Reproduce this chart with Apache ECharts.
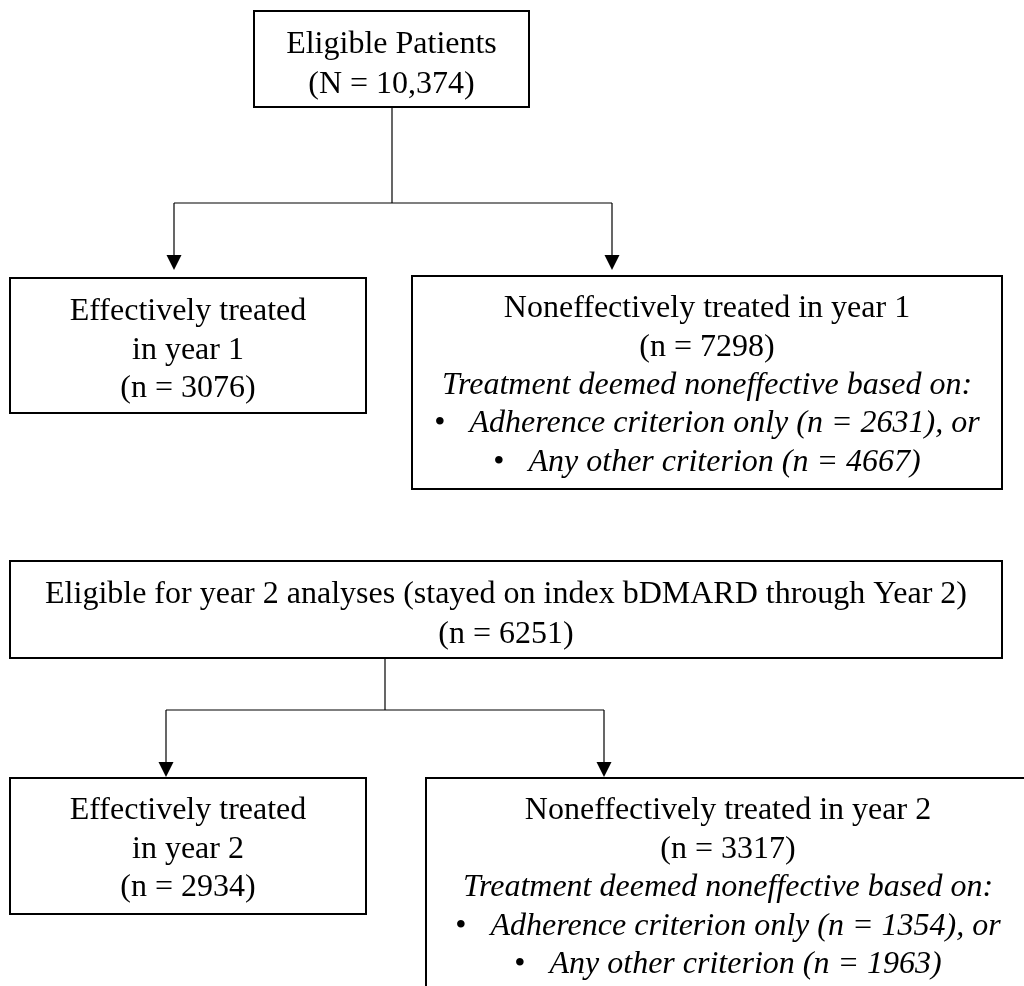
<!DOCTYPE html>
<html>
<head>
<meta charset="utf-8">
<script src="https://cdn.jsdelivr.net/npm/echarts@6/dist/echarts.min.js"></script>
<style>html,body{margin:0;padding:0;background:#fff}#chart{width:1024px;height:986px}</style>
</head>
<body>
<div id="chart"></div>
<script>
// ---- content (data) ----
const totalEligible = 10374;
const year1Effective = 3076;
const year1Noneffective = 7298;
const year1Adherence = 2631;
const year1Other = 4667;
const year2Eligible = 6251;
const year2Effective = 2934;
const year2Noneffective = 3317;
const year2Adherence = 1354;
const year2Other = 1963;

const titleEligible = 'Eligible Patients';
const titleEffective = ['Effectively treated', 'in year '];
const titleNoneffective = 'Noneffectively treated in year ';
const titleBasis = 'Treatment deemed noneffective based on:';
const titleAdherence = 'Adherence criterion only';
const titleOther = 'Any other criterion';
const titleYear2 = 'Eligible for year 2 analyses (stayed on index bDMARD through Year 2)';

// each line: [text, kind]  kind: 'n' normal, 'i' italic, 'b' bullet italic
const boxLines = [
  [[titleEligible, 'n'], ['(N = ' + totalEligible.toLocaleString('en-US') + ')', 'n']],
  [[titleEffective[0], 'n'], [titleEffective[1] + '1', 'n'], ['(n = ' + year1Effective + ')', 'n']],
  [[titleNoneffective + '1', 'n'], ['(n = ' + year1Noneffective + ')', 'n'], [titleBasis, 'i'],
   [titleAdherence + ' (n = ' + year1Adherence + '), or', 'b'], [titleOther + ' (n = ' + year1Other + ')', 'b']],
  [[titleYear2, 'n'], ['(n = ' + year2Eligible + ')', 'n']],
  [[titleEffective[0], 'n'], [titleEffective[1] + '2', 'n'], ['(n = ' + year2Effective + ')', 'n']],
  [[titleNoneffective + '2', 'n'], ['(n = ' + year2Noneffective + ')', 'n'], [titleBasis, 'i'],
   [titleAdherence + ' (n = ' + year2Adherence + '), or', 'b'], [titleOther + ' (n = ' + year2Other + ')', 'b']]
];

// ---- layout (positions in axis units): x0, y0, x1, y1, first-line offset, line step ----
const boxLayout = [
  [254, 11, 529, 107, 33.5, 40],
  [10, 278, 366, 413, 34, 38.5],
  [412, 276, 1002, 489, 33, 38.3],
  [10, 561, 1002, 658, 33.5, 40],
  [10, 778, 366, 914, 33, 38.5],
  [426, 778, 1030, 1000, 33, 38.5]
];
const connectorLayout = [
  [392, 107, 392, 203, 0],
  [174, 203, 612, 203, 0],
  [174, 203, 174, 270, 1],
  [612, 203, 612, 270, 1],
  [385, 658, 385, 710, 0],
  [166, 710, 604, 710, 0],
  [166, 710, 166, 777, 1],
  [604, 710, 604, 777, 1]
];

const FONT = '"Liberation Serif", "Times New Roman", serif';
const FS = 32;

const chart = echarts.init(document.getElementById('chart'), null, {renderer: 'canvas'});

function renderBox(params, api) {
  const i = params.dataIndex;
  const p0 = api.coord([api.value(0), api.value(1)]);
  const p1 = api.coord([api.value(2), api.value(3)]);
  const off = api.value(4);
  const step = api.value(5);
  const cx = (p0[0] + p1[0]) / 2;
  const children = [{
    type: 'rect',
    shape: {x: p0[0], y: p0[1], width: p1[0] - p0[0], height: p1[1] - p0[1]},
    style: {fill: '#fff', stroke: '#000', lineWidth: 2}
  }];
  boxLines[i].forEach(function (ln, k) {
    const y = p0[1] + off + k * step;
    const style = {
      x: cx, y: y, align: 'center', verticalAlign: 'middle',
      fontFamily: FONT, fontSize: FS, fill: '#000'
    };
    if (ln[1] === 'n') {
      style.text = ln[0];
    } else if (ln[1] === 'i') {
      style.text = ln[0];
      style.fontStyle = 'italic';
    } else {
      style.text = '{b|\u2022}{t|   ' + ln[0] + '}';
      style.rich = {
        b: {fontFamily: FONT, fontSize: FS, fill: '#000', fontStyle: 'normal'},
        t: {fontFamily: FONT, fontSize: FS, fill: '#000', fontStyle: 'italic'}
      };
    }
    children.push({type: 'text', style: style});
  });
  return {type: 'group', children: children};
}

function renderConnector(params, api) {
  const a = api.coord([api.value(0), api.value(1)]);
  const b = api.coord([api.value(2), api.value(3)]);
  const arrow = api.value(4);
  const children = [];
  if (arrow) {
    const ah = 15, aw = 7.5;
    children.push({
      type: 'line',
      shape: {x1: a[0], y1: a[1], x2: b[0], y2: b[1] - ah + 1},
      style: {stroke: '#000', lineWidth: 1.2}
    });
    children.push({
      type: 'polygon',
      shape: {points: [[b[0], b[1]], [b[0] - aw, b[1] - ah], [b[0] + aw, b[1] - ah]]},
      style: {fill: '#000'}
    });
  } else {
    children.push({
      type: 'line',
      shape: {x1: a[0], y1: a[1], x2: b[0], y2: b[1]},
      style: {stroke: '#000', lineWidth: 1.2}
    });
  }
  return {type: 'group', children: children};
}

chart.setOption({
  animation: false,
  backgroundColor: '#fff',
  grid: {left: 0, right: 0, top: 0, bottom: 0},
  xAxis: {type: 'value', min: 0, max: 1024, show: false},
  yAxis: {type: 'value', min: 0, max: 986, inverse: true, show: false},
  series: [
    {
      type: 'custom', coordinateSystem: 'cartesian2d', clip: false, silent: true,
      renderItem: renderConnector,
      encode: {x: [0, 2], y: [1, 3]},
      data: connectorLayout, z: 1
    },
    {
      type: 'custom', coordinateSystem: 'cartesian2d', clip: false, silent: true,
      renderItem: renderBox,
      encode: {x: [0, 2], y: [1, 3]},
      data: boxLayout, z: 2
    }
  ]
});
</script>
</body>
</html>
